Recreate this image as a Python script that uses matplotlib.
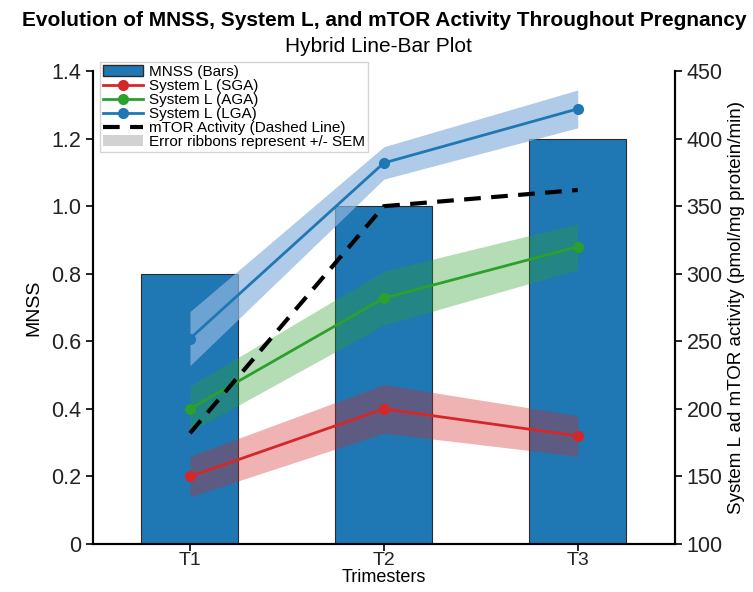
import matplotlib
matplotlib.use('Agg')
import matplotlib.pyplot as plt
from matplotlib.lines import Line2D
from matplotlib.patches import Patch
from matplotlib.ticker import FuncFormatter, MultipleLocator

plt.rcParams['font.family'] = ['Liberation Sans', 'DejaVu Sans']

trimesters = ['T1', 'T2', 'T3']
mnss = [0.8, 1.0, 1.2]
sga = [150, 200, 180]
sga_sem = [15, 18, 15]
aga = [200, 282, 320]
aga_sem = [17, 20, 17]
lga = [252, 382, 422]
lga_sem = [20, 12, 14]
mtor = [182, 350, 362]

x = list(range(len(trimesters)))

fig, ax1 = plt.subplots(figsize=(7.53, 5.92), dpi=100)
fig.subplots_adjust(left=0.1235, right=0.896, bottom=0.081, top=0.88)

ax1.bar(x, mnss, width=0.5, color='#1f77b4', edgecolor='#2b2b2b', linewidth=0.8)
ax1.set_xlim(-0.5, 2.5)
ax1.set_ylim(0, 1.4)
ax1.yaxis.set_major_locator(MultipleLocator(0.2))
ax1.yaxis.set_major_formatter(FuncFormatter(lambda v, p: '0' if abs(v) < 1e-9 else f'{v:.1f}'))
ax1.set_xticks(x)
ax1.set_xticklabels(trimesters)
ax1.set_xlabel('Trimesters', fontsize=13, labelpad=0)
ax1.set_ylabel('MNSS', fontsize=14, labelpad=6)

# ribbons: (face colour, alpha) chosen so they stay visible on top of the bars
ax2 = ax1.twinx()
series = [
    (sga, sga_sem, '#d62728', '#d62728', 0.35),
    (aga, aga_sem, '#2ca02c', '#2ca02c', 0.35),
    (lga, lga_sem, '#1f77b4', '#8db6df', 0.7),
]
for vals, sem, col, fcol, a in series:
    lo = [v - s for v, s in zip(vals, sem)]
    hi = [v + s for v, s in zip(vals, sem)]
    ax2.fill_between(x, lo, hi, color=fcol, alpha=a, linewidth=0)
    ax2.plot(x, vals, color=col, lw=2, marker='o', ms=7)
ax2.plot(x, mtor, color='black', lw=3, ls=(0, (4, 2.5)))
ax2.set_ylim(100, 450)
ax2.yaxis.set_major_locator(MultipleLocator(50))
ax2.set_ylabel('System L ad mTOR activity (pmol/mg protein/min)', fontsize=13.5, labelpad=4)

for ax in (ax1, ax2):
    ax.spines['top'].set_visible(False)
    for s in ('left', 'right', 'bottom'):
        ax.spines[s].set_linewidth(1.5)
    ax.tick_params(labelsize=15.5, width=1.2, length=5, labelcolor='#222222')
ax1.tick_params(axis='x', labelsize=14, pad=1)

handles = [
    Patch(facecolor='#1f77b4', edgecolor='#2b2b2b', label='MNSS (Bars)'),
    Line2D([], [], color='#d62728', lw=2, marker='o', ms=7, label='System L (SGA)'),
    Line2D([], [], color='#2ca02c', lw=2, marker='o', ms=7, label='System L (AGA)'),
    Line2D([], [], color='#1f77b4', lw=2, marker='o', ms=7, label='System L (LGA)'),
    Line2D([], [], color='black', lw=3, ls=(0, (4, 2.5)), label='mTOR Activity (Dashed Line)'),
    Patch(facecolor='gray', alpha=0.35, label='Error ribbons represent +/- SEM'),
]
ax2.legend(handles=handles, loc='upper left', bbox_to_anchor=(0.012, 1.019),
           borderaxespad=0, fontsize=11, labelspacing=0.0, borderpad=0.2,
           handlelength=2.6, handletextpad=0.4, fancybox=False, framealpha=0.85)

fig.text(0.51, 0.966, 'Evolution of MNSS, System L, and mTOR Activity Throughout Pregnancy',
         ha='center', va='center', fontsize=15, fontweight='bold')
fig.text(0.502, 0.922, 'Hybrid Line-Bar Plot', ha='center', va='center', fontsize=15)

fig.savefig('out.png', dpi=100)
